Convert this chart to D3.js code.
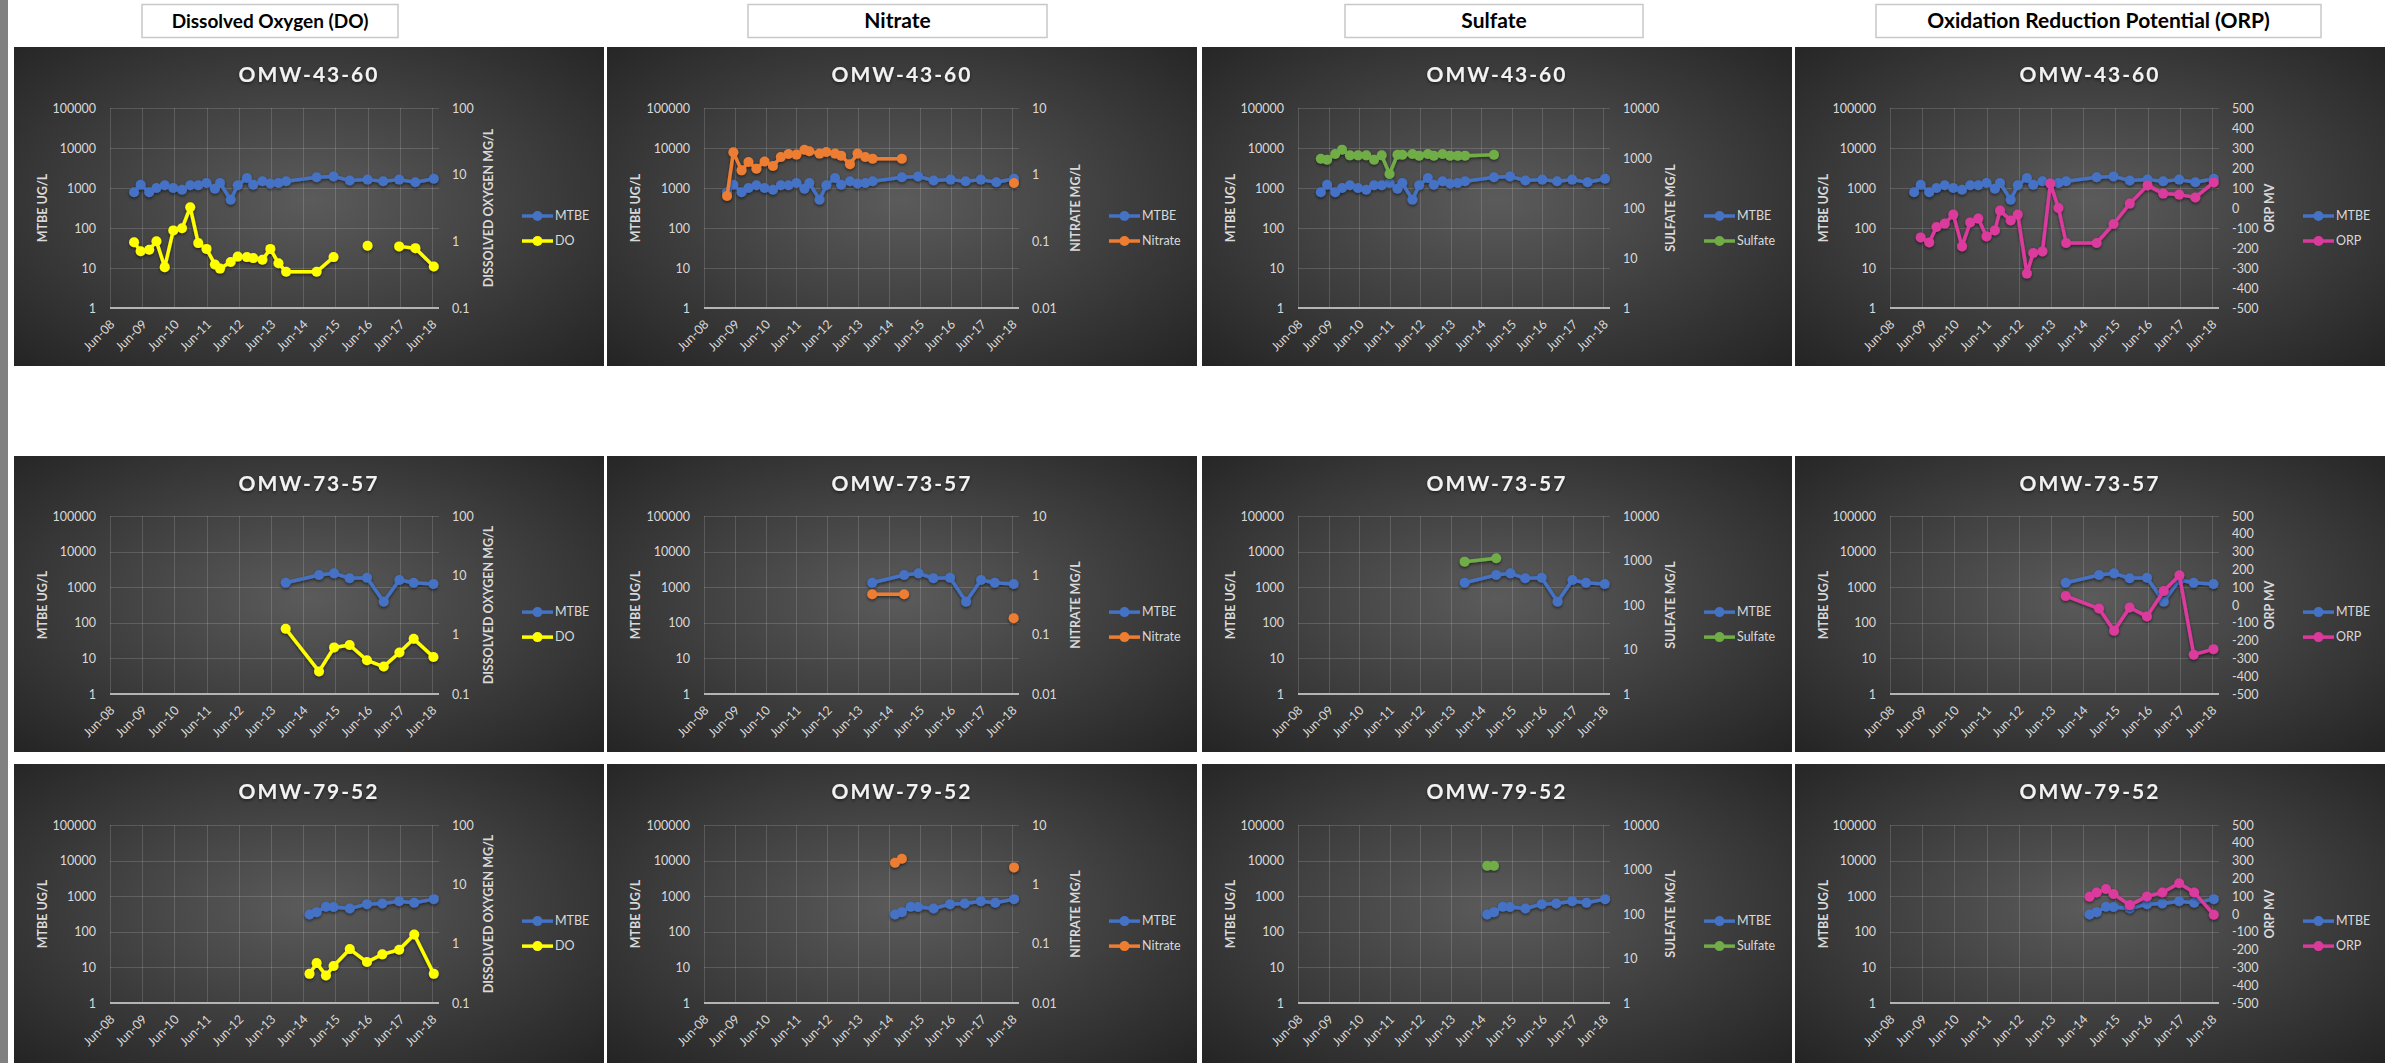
<!DOCTYPE html>
<html>
<head>
<meta charset="utf-8">
<script src="https://cdn.jsdelivr.net/npm/d3@7"></script>
<style>
  html, body { margin: 0; padding: 0; background: #ffffff; }
  svg { display: block; font-family: Lato, "Open Sans", sans-serif; }
</style>
</head>
<body>
<svg id="chart" width="2390" height="1063"></svg>
<script>
// ---------------- data ----------------
const headers = ["Dissolved Oxygen (DO)", "Nitrate", "Sulfate", "Oxidation Reduction Potential (ORP)"];
const wellNames = ["OMW-43-60", "OMW-73-57", "OMW-79-52"];
const seriesNames = ["DO", "Nitrate", "Sulfate", "ORP"];
const rightAxisTitles = ["DISSOLVED OXYGEN MG/L", "NITRATE MG/L", "SULFATE MG/L", "ORP MV"];
const leftAxisTitle = "MTBE UG/L";

const xTickLabels = ["Jun-08", "Jun-09", "Jun-10", "Jun-11", "Jun-12", "Jun-13", "Jun-14", "Jun-15", "Jun-16", "Jun-17", "Jun-18"];
const mtbeTicks = [1, 10, 100, 1000, 10000, 100000];
const doTicks = [0.1, 1, 10, 100];
const nitrateTicks = [0.01, 0.1, 1, 10];
const sulfateTicks = [1, 10, 100, 1000, 10000];
const orpTicks = [-500, -400, -300, -200, -100, 0, 100, 200, 300, 400, 500];

// OMW-43-60
const dates4360 = ["2009-03-01", "2009-05-15", "2009-08-20", "2009-11-10", "2010-02-12", "2010-05-20", "2010-08-27",
  "2010-11-28", "2011-02-27", "2011-06-01", "2011-09-04", "2011-11-01", "2012-03-01", "2012-05-20", "2012-09-01",
  "2012-11-12", "2013-02-24", "2013-05-25", "2013-08-25", "2013-11-20", "2014-11-01", "2015-05-12", "2015-11-12",
  "2016-06-01", "2016-11-25", "2017-05-25", "2017-11-25", "2018-06-22"];
const mtbe4360 = [780, 1210, 780, 1000, 1170, 1000, 900, 1170, 1170, 1330, 960, 1330, 510, 1170, 1780, 1210, 1470,
  1290, 1330, 1470, 1850, 1950, 1540, 1620, 1470, 1620, 1390, 1700];
const do4360 = [0.97, 0.71, 0.75, 1.0, 0.41, 1.46, 1.57, 3.24, 0.94, 0.77, 0.45, 0.39, 0.49, 0.59, 0.58, 0.56, 0.53,
  0.77, 0.47, 0.35, 0.35, 0.58, null, 0.86, null, 0.84, 0.79, 0.42];
const nitrate4360 = [0.48, 2.16, 1.16, 1.55, 1.23, 1.58, 1.35, 1.84, 2.04, 2.0, 2.37, 2.24, 2.07, 2.19, 2.07, 1.93,
  1.43, 2.07, 1.84, 1.74, 1.74, null, null, null, null, null, null, 0.75];
const sulfate4360 = [970, 926, 1200, 1470, 1130, 1130, 1130, 926, 1130, 479, 1166, 1166, 1200, 1114, 1200, 1114, 1200,
  1114, 1114, 1114, 1166, null, null, null, null, null, null, null];
const orp4360 = [null, -147, -172, -95, -78, -33, -192, -72, -53, -142, -112, -13, -62, -33, -328, -225, -217, 122, 0,
  -175, -175, -80, 22, 113, 72, 67, 53, 128];

// OMW-73-57
const dates7357 = ["2013-11-15", "2014-11-28", "2015-05-18", "2015-11-10", "2016-05-25", "2016-12-01", "2017-05-28",
  "2017-11-06", "2018-06-18"];
const mtbe7357 = [1340, 2200, 2450, 1780, 1850, 393, 1590, 1340, 1230];
const do7357 = [1.26, 0.24, 0.61, 0.67, 0.37, 0.29, 0.50, 0.85, 0.42];
const nitrate7357 = [0.48, 0.48, null, null, null, null, null, null, 0.19];
const sulfate7357 = [942, 1119, null, null, null, null, null, null, null];
const orp7357 = [51, -20, -145, -14, -64, 79, 167, -279, -248];

// OMW-79-52
const dates7952 = ["2014-08-12", "2014-11-01", "2015-02-15", "2015-05-12", "2015-11-12", "2016-05-25", "2016-11-15",
  "2017-05-25", "2017-11-12", "2018-06-22"];
const mtbe7952 = [306, 357, 503, 500, 452, 598, 625, 726, 652, 827];
const do7952 = [0.31, 0.47, 0.29, 0.42, 0.81, 0.49, 0.66, 0.79, 1.43, 0.31];
const nitrate7952 = [2.31, 2.7, null, null, null, null, null, null, null, 1.93];
const sulfate7952 = [1214, 1214, null, null, null, null, null, null, null, null];
const orp7952 = [97, 121, 140, 112, 50, 99, 121, 173, 121, -4];

// ---------------- tables built from the arrays ----------------
const wells = [
  { name: wellNames[0], dates: dates4360, MTBE: mtbe4360, DO: do4360, Nitrate: nitrate4360, Sulfate: sulfate4360, ORP: orp4360 },
  { name: wellNames[1], dates: dates7357, MTBE: mtbe7357, DO: do7357, Nitrate: nitrate7357, Sulfate: sulfate7357, ORP: orp7357 },
  { name: wellNames[2], dates: dates7952, MTBE: mtbe7952, DO: do7952, Nitrate: nitrate7952, Sulfate: sulfate7952, ORP: orp7952 }
];
const paramTicks = [doTicks, nitrateTicks, sulfateTicks, orpTicks];
const paramColors = ["#FFFF00", "#ED7D31", "#70AD47", "#DA3A9C"];
const mtbeColor = "#4472C4";

// ---------------- layout ----------------
const panelW = 590;
const colX = [14, 607, 1202, 1795];
const plotL = [96, 97, 96, 95];
const plotR = [425, 412, 408, 424];
const rTitleX = [475, 469, 469, 475];
const legX = [508, 502, 502, 508];
const rowY = [47, 456, 764];
const rowH = [319, 296, 299];
const plotTopRel = [61, 60, 61];
const plotHgt = [200, 178, 178];
const headerBoxes = [[142, 256, 19], [748, 299, 21], [1345, 298, 21], [1876, 445, 21]];

const parseDate = d3.timeParse("%Y-%m-%d");
const parseTick = d3.timeParse("%b-%y");
const xTicks = xTickLabels.map(parseTick);
const xDomain = [xTicks[0], new Date(2018, 7, 20)];

const svg = d3.select("#chart");
const defs = svg.append("defs");

const grad = defs.append("radialGradient").attr("id", "panelBg")
  .attr("cx", "50%").attr("cy", "48%").attr("r", "72%");
grad.append("stop").attr("offset", "0%").attr("stop-color", "#5b5b5b");
grad.append("stop").attr("offset", "100%").attr("stop-color", "#242424");

const shadow = defs.append("filter").attr("id", "soft").attr("x", "-10%").attr("y", "-10%")
  .attr("width", "120%").attr("height", "130%");
shadow.append("feDropShadow").attr("dx", 0).attr("dy", 1.5).attr("stdDeviation", 1.4)
  .attr("flood-color", "#000").attr("flood-opacity", 0.55);

// left edge bar
svg.append("rect").attr("x", 0).attr("y", 0).attr("width", 8).attr("height", 1063).attr("fill", "#808080");

// parameter header boxes
headers.forEach((h, c) => {
  const [bx, bw, fs] = headerBoxes[c];
  svg.append("rect").attr("x", bx).attr("y", 4.5).attr("width", bw).attr("height", 33)
    .attr("fill", "#ffffff").attr("stroke", "#c8c8c8").attr("stroke-width", 1.5);
  svg.append("text").attr("x", bx + bw / 2).attr("y", 21).attr("dy", "0.35em")
    .attr("text-anchor", "middle").attr("font-size", fs).attr("font-weight", 700)
    .attr("fill", "#000").text(h);
});

function drawPanel(r, c) {
  const well = wells[r];
  const key = seriesNames[c];
  const g = svg.append("g").attr("transform", `translate(${colX[c]},${rowY[r]})`);
  g.append("rect").attr("width", panelW).attr("height", rowH[r]).attr("fill", "url(#panelBg)");

  const top = plotTopRel[r];
  const bottom = top + plotHgt[r];

  const x = d3.scaleTime().domain(xDomain).range([plotL[c], plotR[c]]);
  const yL = d3.scaleLog().domain([1, 100000]).range([bottom, top]);
  const ticks = paramTicks[c];
  const yR = key === "ORP"
    ? d3.scaleLinear().domain([ticks[0], ticks[ticks.length - 1]]).range([bottom, top])
    : d3.scaleLog().domain([ticks[0], ticks[ticks.length - 1]]).range([bottom, top]);

  // gridlines
  const grid = g.append("g").attr("stroke", "rgba(255,255,255,0.15)").attr("stroke-width", 1);
  grid.selectAll("line.h").data(mtbeTicks.slice(1)).join("line")
    .attr("x1", plotL[c]).attr("x2", plotR[c])
    .attr("y1", d => Math.round(yL(d)) + 0.5).attr("y2", d => Math.round(yL(d)) + 0.5);
  grid.selectAll("line.v").data(xTicks).join("line")
    .attr("x1", d => Math.round(x(d)) + 0.5).attr("x2", d => Math.round(x(d)) + 0.5)
    .attr("y1", top).attr("y2", bottom);
  g.append("line").attr("x1", plotL[c]).attr("x2", plotR[c]).attr("y1", bottom).attr("y2", bottom)
    .attr("stroke", "#b4b4b4").attr("stroke-width", 2);

  // axes
  const axL = g.append("g").attr("transform", `translate(${plotL[c]},0)`)
    .call(d3.axisLeft(yL).tickValues(mtbeTicks).tickFormat(d => String(d)).tickSize(0).tickPadding(14));
  const axR = g.append("g").attr("transform", `translate(${plotR[c]},0)`)
    .call(d3.axisRight(yR).tickValues(ticks).tickFormat(d => String(d)).tickSize(0).tickPadding(13));
  const axB = g.append("g").attr("transform", `translate(0,${bottom})`)
    .call(d3.axisBottom(x).tickValues(xTicks).tickFormat((d, i) => xTickLabels[i]).tickSize(0));
  [axL, axR, axB].forEach(a => {
    a.select(".domain").remove();
    a.selectAll("text").attr("fill", "#d9d9d9").attr("font-size", 12.5).attr("font-family", "Lato, sans-serif");
  });
  axB.selectAll("text").attr("y", null).attr("dy", null).attr("text-anchor", "end")
    .attr("transform", "translate(5,17) rotate(-45)");

  // axis titles
  g.append("text").attr("transform", `translate(29,${(top + bottom) / 2}) rotate(-90)`)
    .attr("text-anchor", "middle").attr("dy", "0.35em")
    .attr("font-size", 12.5).attr("font-weight", 700).attr("fill", "#d9d9d9").text(leftAxisTitle);
  g.append("text").attr("transform", `translate(${rTitleX[c]},${(top + bottom) / 2}) rotate(-90)`)
    .attr("text-anchor", "middle").attr("dy", "0.35em")
    .attr("font-size", 12.5).attr("font-weight", 700).attr("fill", "#d9d9d9").text(rightAxisTitles[c]);

  // chart title
  g.append("text").attr("x", panelW / 2).attr("y", 27).attr("dy", "0.36em")
    .attr("text-anchor", "middle").attr("font-size", 21).attr("font-weight", 700)
    .attr("letter-spacing", 2).attr("fill", "#f2f2f2").attr("filter", "url(#soft)").text(well.name);

  // series
  const dates = well.dates.map(parseDate);
  const series = [
    { vals: well.MTBE, y: yL, color: mtbeColor },
    { vals: well[key], y: yR, color: paramColors[c] }
  ];
  series.forEach(s => {
    const pts = dates.map((t, i) => ({ t, v: s.vals[i] }));
    const sg = g.append("g").attr("filter", "url(#soft)");
    const line = d3.line().defined(d => d.v != null).x(d => x(d.t)).y(d => s.y(d.v));
    sg.append("path").datum(pts).attr("d", line).attr("fill", "none")
      .attr("stroke", s.color).attr("stroke-width", 3.5).attr("stroke-linejoin", "round");
    sg.selectAll("circle").data(pts.filter(d => d.v != null)).join("circle")
      .attr("cx", d => x(d.t)).attr("cy", d => s.y(d.v)).attr("r", 5).attr("fill", s.color);
  });

  // legend
  const legNames = ["MTBE", seriesNames[c]];
  const legColors = [mtbeColor, paramColors[c]];
  const ly0 = top + plotHgt[r] * 0.54;
  legNames.forEach((n, i) => {
    const ly = ly0 + i * 25;
    const lg = g.append("g");
    lg.append("line").attr("x1", legX[c]).attr("x2", legX[c] + 31).attr("y1", ly).attr("y2", ly)
      .attr("stroke", legColors[i]).attr("stroke-width", 3.5);
    lg.append("circle").attr("cx", legX[c] + 15.5).attr("cy", ly).attr("r", 5).attr("fill", legColors[i]);
    lg.append("text").attr("x", legX[c] + 33).attr("y", ly).attr("dy", "0.35em")
      .attr("font-size", 12.5).attr("fill", "#d9d9d9").text(n);
  });
}

for (let r = 0; r < wells.length; r++) {
  for (let c = 0; c < headers.length; c++) drawPanel(r, c);
}
</script>
</body>
</html>
